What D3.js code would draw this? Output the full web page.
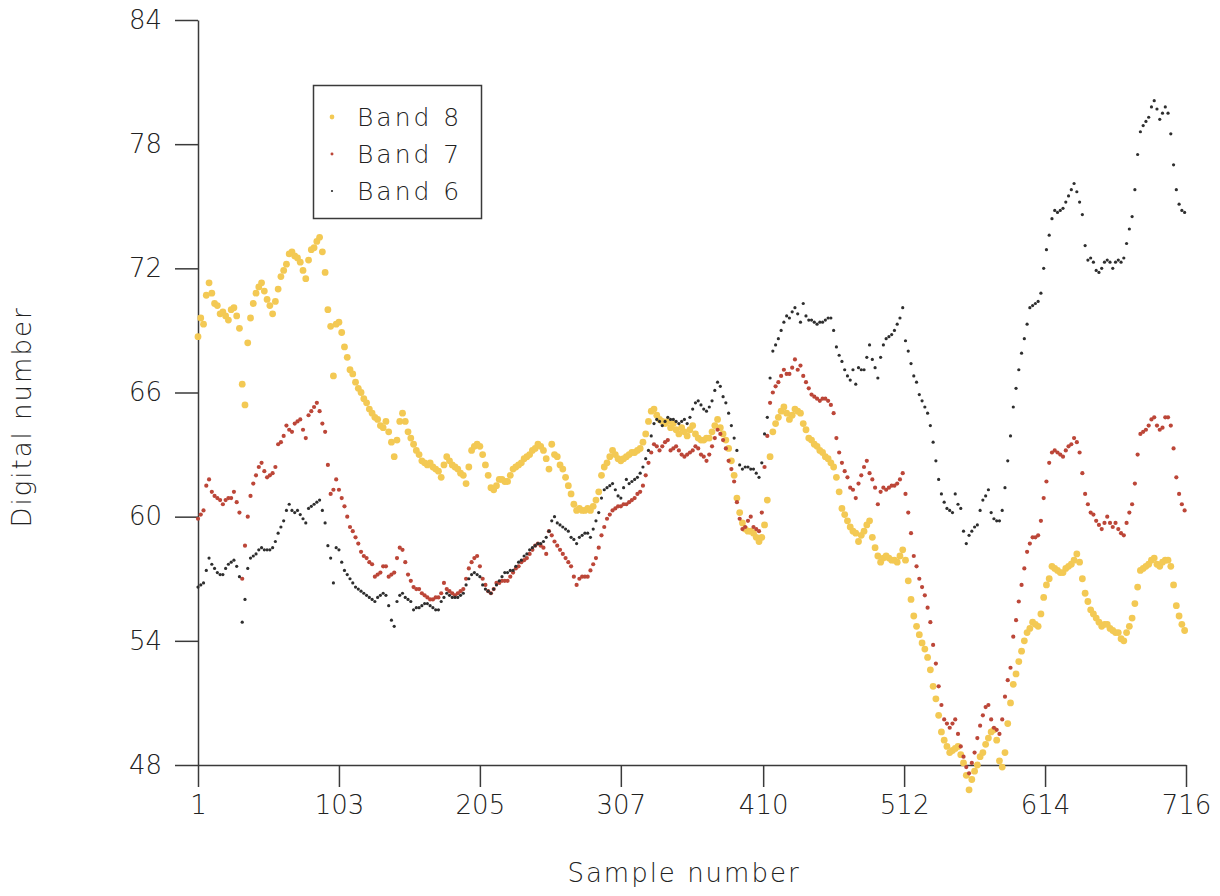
<!DOCTYPE html>
<html>
<head>
<meta charset="utf-8">
<script src="https://cdn.jsdelivr.net/npm/d3@7"></script>
<style>
  body { margin: 0; background: #fff; }
  svg text { font-family: "DejaVu Sans", sans-serif; font-weight: 200; fill: #222; }
</style>
</head>
<body>
<div id="chart"></div>
<script>
"use strict";

// sample numbers (every second sample of 1..716)
var samples = d3.range(1, 716, 2);

var xTicks = [1, 103, 205, 307, 410, 512, 614, 716];
var yTicks = [48, 54, 60, 66, 72, 78, 84];

var seriesNames = ["Band 8", "Band 7", "Band 6"];

var band8 = [
  68.7, 69.6, 69.3, 70.7, 71.3, 70.8, 70.3, 70.2, 69.8, 69.9,
  69.7, 69.5, 70.0, 70.1, 69.7, 69.1, 66.4, 65.4, 68.4, 69.6,
  70.3, 70.8, 71.1, 71.3, 70.9, 70.5, 70.2, 69.8, 70.4, 71.0,
  71.6, 71.9, 72.2, 72.7, 72.8, 72.6, 72.5, 72.3, 71.9, 71.5,
  72.4, 72.9, 73.0, 73.3, 73.5, 72.8, 71.8, 70.0, 69.2, 66.8,
  69.3, 69.4, 68.9, 68.2, 67.7, 67.1, 66.9, 66.5, 66.2, 66.0,
  65.7, 65.5, 65.2, 65.0, 64.8, 64.7, 64.4, 64.3, 64.6, 64.1,
  63.6, 62.9, 63.7, 64.6, 65.0, 64.6, 64.1, 63.8, 63.5, 63.2,
  63.0, 62.7, 62.6, 62.5, 62.6, 62.4, 62.3, 62.2, 61.9, 62.5,
  62.9, 62.7, 62.5, 62.4, 62.3, 62.1, 62.0, 61.6, 62.4, 63.2,
  63.4, 63.5, 63.4, 63.0, 62.5, 62.0, 61.4, 61.3, 61.5, 61.8,
  61.8, 61.7, 61.7, 62.0, 62.3, 62.4, 62.5, 62.6, 62.8, 62.9,
  63.0, 63.2, 63.3, 63.5, 63.4, 63.2, 62.8, 62.3, 63.5, 63.0,
  62.9, 62.5, 62.3, 61.9, 61.5, 61.1, 60.6, 60.3, 60.4, 60.3,
  60.3, 60.4, 60.3, 60.5, 60.8, 61.2, 62.0, 62.4, 62.6, 62.9,
  63.2, 63.0, 62.8, 62.7, 62.8, 62.9, 63.0, 63.1, 63.1, 63.2,
  63.3, 63.6, 64.0, 64.6, 65.1, 65.2, 64.9, 64.7, 64.6, 64.5,
  64.6, 64.3, 64.5, 64.2, 64.0, 64.3, 64.1, 63.9, 64.2, 64.4,
  64.0, 63.8, 63.7, 63.7, 63.8, 63.8, 64.1, 64.4, 64.7, 64.3,
  64.0, 63.7, 63.3, 62.7, 62.0, 60.9, 60.2, 59.7, 59.4, 59.3,
  59.3, 59.2, 59.0, 58.8, 59.0, 59.6, 60.8, 62.9, 64.1, 64.5,
  64.8, 65.1, 65.3, 65.0, 64.7, 64.9, 65.2, 65.1, 65.0, 64.5,
  64.2, 63.8, 63.7, 63.5, 63.4, 63.2, 63.1, 62.9, 62.8, 62.6,
  62.4, 61.9, 61.2, 60.4, 60.1, 59.8, 59.5, 59.3, 59.2, 58.8,
  59.1, 59.3, 59.6, 59.8, 59.0, 58.5, 58.1, 57.8, 58.0, 58.1,
  58.0, 57.9, 57.9, 57.8, 58.1, 58.4, 57.9, 56.9, 56.0, 55.2,
  54.7, 54.3, 53.9, 53.6, 53.2, 52.6, 51.8, 51.2, 50.4, 49.6,
  49.2, 48.9, 48.6, 48.7, 48.8, 48.9, 48.5, 48.1, 47.5, 46.8,
  47.3, 47.7, 48.0, 48.4, 48.6, 49.0, 49.3, 49.6, 49.7, 49.2,
  48.2, 47.9, 48.6, 50.0, 51.0, 51.9, 52.4, 53.0, 53.5, 54.0,
  54.4, 54.6, 54.9, 54.8, 54.7, 55.3, 56.1, 56.7, 57.0, 57.6,
  57.5, 57.4, 57.3, 57.3, 57.5, 57.6, 57.7, 57.9, 58.2, 57.8,
  57.0, 56.3, 55.9, 55.5, 55.3, 55.1, 54.9, 54.7, 54.8, 54.8,
  54.6, 54.5, 54.4, 54.4, 54.1, 54.0, 54.4, 54.7, 55.1, 55.8,
  56.6, 57.4, 57.5, 57.6, 57.7, 57.9, 58.0, 57.7, 57.6, 57.8,
  57.9, 57.9, 57.6, 56.7, 55.7, 55.2, 54.8, 54.5
];

var band7 = [
  59.9, 60.1, 60.3, 61.5, 61.8, 61.2, 61.0, 60.9, 60.8, 60.6,
  60.8, 60.9, 60.9, 61.2, 60.7, 60.2, 57.0, 58.6, 60.0, 61.0,
  61.6, 62.0, 62.4, 62.6, 62.2, 61.9, 62.0, 62.1, 62.4, 63.5,
  63.6, 63.9, 64.4, 64.2, 64.1, 64.5, 64.6, 64.7, 64.2, 63.8,
  64.9, 65.1, 65.3, 65.5, 65.1, 64.5, 64.1, 62.5, 61.1, 61.3,
  61.8, 61.3, 60.9, 60.5, 60.0, 59.5, 59.3, 59.0, 58.7, 58.3,
  58.1, 58.0, 57.8, 57.7, 57.1, 57.2, 57.3, 57.6, 57.6, 57.1,
  57.2, 57.3, 58.0, 58.5, 58.4, 57.8, 57.2, 56.9, 56.6, 56.5,
  56.5, 56.3, 56.2, 56.1, 56.0, 56.0, 56.1, 56.1, 56.3, 56.8,
  56.5, 56.4, 56.3, 56.2, 56.3, 56.4, 56.5, 57.0, 57.5, 57.8,
  58.0, 58.1, 57.6, 57.0, 56.7, 56.4, 56.3, 56.5, 56.8, 56.8,
  56.9, 56.9, 56.9, 57.1, 57.3, 57.5, 57.6, 57.8, 57.9, 58.0,
  58.2, 58.4, 58.6, 58.7, 58.6, 58.5, 58.2, 59.3, 59.1, 58.8,
  58.6, 58.4, 58.2, 58.0, 57.8, 57.6, 57.1, 56.7, 57.0, 57.1,
  57.1, 57.1, 57.4, 57.7, 58.0, 58.5, 59.1, 59.5, 59.9, 60.1,
  60.3, 60.4, 60.5, 60.5, 60.6, 60.6, 60.7, 60.8, 60.9, 61.1,
  61.2, 61.5, 62.0, 62.6, 63.1, 63.5, 63.4, 63.2, 63.4, 63.6,
  63.7, 63.2, 63.3, 63.4, 63.2, 63.0, 62.9, 63.0, 63.1, 63.2,
  63.4, 63.3, 63.0, 62.9, 62.7, 63.0, 63.4, 63.8, 64.2, 64.0,
  63.7, 63.3, 62.7, 62.3, 61.7, 60.7, 59.9, 59.4, 59.5, 59.8,
  60.0, 59.5, 59.4, 59.3, 60.2, 62.4, 63.9, 65.5, 66.0, 66.3,
  66.5, 66.8, 67.1, 66.9, 66.9, 67.2, 67.6, 67.1, 67.3, 66.8,
  66.5, 66.2, 65.9, 65.8, 65.7, 65.6, 65.7, 65.7, 65.6, 65.4,
  65.0, 63.8, 63.1, 62.6, 62.2, 61.9, 61.4, 61.3, 60.9, 61.6,
  62.0, 62.4, 62.7, 62.1, 61.8, 61.4, 60.6, 61.2, 61.4, 61.3,
  61.4, 61.5, 61.5, 61.6, 61.8, 62.1, 61.1, 60.2, 59.2, 58.1,
  57.6, 57.0, 56.6, 56.2, 55.6, 54.9, 53.8, 52.9, 51.8, 50.9,
  50.2, 50.0, 49.8, 50.0, 50.2, 49.5, 48.9, 48.4, 47.9, 47.6,
  48.1, 48.6, 49.3, 49.9, 50.4, 50.8, 50.9, 50.2, 49.8, 49.7,
  49.5, 50.2, 51.3, 52.1, 52.7, 54.2, 55.0, 55.9, 56.7, 57.5,
  58.3, 58.7, 59.0, 59.0, 59.1, 59.8, 60.9, 61.7, 62.6, 63.1,
  63.2, 63.1, 63.0, 62.9, 63.2, 63.4, 63.5, 63.8, 63.6, 63.1,
  62.1, 61.1, 60.6, 60.2, 60.1, 59.8, 59.6, 59.4, 59.7, 60.0,
  59.7, 59.5, 59.7, 59.4, 59.2, 59.1, 59.7, 60.2, 60.6, 61.6,
  63.0, 64.0, 64.1, 64.2, 64.4, 64.7, 64.8, 64.4, 64.2, 64.3,
  64.8, 64.8, 64.4, 63.3, 61.9, 61.1, 60.6, 60.3
];

var band6 = [
  56.6, 56.7, 56.8, 57.4, 58.0, 57.7, 57.5, 57.3, 57.2, 57.2,
  57.5, 57.7, 57.8, 57.9, 57.6, 57.1, 54.9, 56.0, 57.5, 58.0,
  58.1, 58.2, 58.4, 58.5, 58.4, 58.4, 58.4, 58.5, 58.8, 59.2,
  59.5, 59.8, 60.3, 60.6, 60.3, 60.2, 60.3, 60.1, 59.9, 59.7,
  60.4, 60.5, 60.6, 60.7, 60.8, 60.3, 59.7, 58.6, 58.0, 56.8,
  58.5, 58.4, 57.8, 57.4, 57.2, 57.0, 56.8, 56.6, 56.5, 56.4,
  56.3, 56.2, 56.1, 56.0, 55.9, 56.1, 56.2, 56.3, 56.2, 55.7,
  55.0, 54.7, 55.9, 56.2, 56.3, 56.1, 56.0, 55.9, 55.5, 55.6,
  55.6, 55.7, 55.8, 55.8, 55.7, 55.6, 55.5, 55.5, 55.9, 56.1,
  56.3, 56.2, 56.1, 56.1, 56.1, 56.2, 56.3, 56.7, 57.0, 57.2,
  57.3, 57.2, 57.1, 56.7, 56.5, 56.4, 56.3, 56.5, 56.7, 56.9,
  57.1, 57.3, 57.3, 57.4, 57.4, 57.6, 57.8, 57.9, 58.1, 58.2,
  58.4, 58.5, 58.6, 58.7, 58.7, 58.8, 59.0, 59.3, 59.8, 60.0,
  59.7, 59.6, 59.5, 59.4, 59.3, 59.0, 58.9, 58.7, 59.0, 59.1,
  59.2, 59.2, 59.0, 59.4, 59.8, 60.2, 60.9, 61.3, 61.4, 61.5,
  61.6, 61.3, 61.0, 60.9, 61.4, 61.8, 61.6, 61.7, 61.8, 61.9,
  62.1, 62.4, 62.8, 63.2, 63.9, 64.5, 64.7, 64.6, 64.4, 64.6,
  64.8, 64.7, 64.7, 64.6, 64.5, 64.6, 64.7, 64.5, 64.8, 65.2,
  65.5, 65.6, 65.4, 65.2, 65.1, 65.3, 65.6, 66.1, 66.5, 66.3,
  65.8, 65.5, 65.0, 64.4, 63.8, 63.2, 62.5, 62.3, 62.4, 62.4,
  62.3, 62.3, 62.1, 61.9, 62.6, 64.0, 64.8, 66.7, 68.0, 68.3,
  68.6, 69.0, 69.4, 69.7, 69.6, 69.9, 70.1, 69.8, 69.4, 70.3,
  69.7, 69.5, 69.5, 69.4, 69.3, 69.4, 69.4, 69.5, 69.6, 69.6,
  69.0, 68.2, 67.8, 67.5, 67.1, 66.8, 66.6, 67.1, 66.4, 67.2,
  67.1, 67.1, 67.7, 68.3, 67.6, 67.2, 66.7, 67.7, 68.3, 68.6,
  68.7, 68.8, 69.0, 69.3, 69.6, 70.1, 68.5, 68.0, 67.4, 66.8,
  66.5, 65.9, 65.6, 65.3, 65.0, 64.4, 63.6, 62.7, 61.8, 61.1,
  60.7, 60.4, 60.3, 60.2, 61.1, 60.6, 60.4, 59.3, 58.7, 59.1,
  59.3, 59.5, 59.6, 60.3, 60.8, 61.0, 61.3, 60.2, 59.9, 59.8,
  59.8, 60.3, 61.4, 62.7, 63.9, 65.3, 66.2, 67.1, 67.9, 68.6,
  69.3, 70.1, 70.2, 70.3, 70.4, 70.8, 72.0, 72.9, 73.6, 74.4,
  74.8, 74.7, 74.8, 74.9, 75.2, 75.5, 75.8, 76.1, 75.7, 75.2,
  74.6, 73.1, 72.4, 72.5, 72.3, 71.9, 71.8, 72.0, 72.3, 72.4,
  72.3, 72.0, 72.3, 72.4, 72.3, 72.5, 73.2, 73.9, 74.5, 75.8,
  77.5, 78.6, 78.9, 79.1, 79.3, 79.8, 80.1, 79.7, 79.2, 79.5,
  79.8, 79.5, 78.5, 77.0, 75.8, 75.1, 74.8, 74.7
];

var seriesValues = [band8, band7, band6];
var seriesColors = ["#f3c954", "#bc4638", "#2e2e2e"];
var seriesRadius = [3.4, 2.1, 1.6];

var width = 1220;
var height = 896;

var svg = d3.select("#chart").append("svg")
  .attr("width", width)
  .attr("height", height);

var x = d3.scaleLinear().domain([1, 716]).range([198, 1186]);
var y = d3.scaleLinear().domain([48, 84]).range([765, 20]);

// axes
var yAxis = svg.append("g")
  .attr("transform", "translate(198,0)")
  .call(d3.axisLeft(y).tickValues(yTicks).tickSize(23).tickSizeOuter(0).tickPadding(13));

var xAxis = svg.append("g")
  .attr("transform", "translate(0,765)")
  .call(d3.axisBottom(x).tickValues(xTicks).tickSize(22).tickSizeOuter(0).tickPadding(9));

[xAxis, yAxis].forEach(function(g) {
  g.select(".domain").attr("stroke", "#3a3a3a").attr("stroke-width", 1.5);
  g.selectAll(".tick line").attr("stroke", "#3a3a3a").attr("stroke-width", 1.5);
  g.selectAll(".tick text")
    .attr("fill", "#222")
    .style("font-size", "26px")
    .style("font-family", "\"DejaVu Sans\", sans-serif")
    .style("font-weight", 200);
});

// axis titles
svg.append("text")
  .attr("x", 684)
  .attr("y", 882)
  .attr("text-anchor", "middle")
  .style("font-size", "26px")
  .style("letter-spacing", "2px")
  .text("Sample number");

svg.append("text")
  .attr("transform", "translate(31,417) rotate(-90)")
  .attr("text-anchor", "middle")
  .style("font-size", "26px")
  .style("letter-spacing", "2px")
  .text("Digital number");

// dots
seriesValues.forEach(function(values, i) {
  svg.append("g")
    .selectAll("circle")
    .data(values)
    .enter().append("circle")
    .attr("cx", function(d, j) { return x(samples[j]); })
    .attr("cy", function(d) { return y(d); })
    .attr("r", seriesRadius[i])
    .attr("fill", seriesColors[i]);
});

// legend
var legend = svg.append("g");

legend.append("rect")
  .attr("x", 313.5)
  .attr("y", 85.5)
  .attr("width", 168)
  .attr("height", 133)
  .attr("fill", "#fff")
  .attr("stroke", "#3a3a3a")
  .attr("stroke-width", 1.5);

var items = legend.selectAll(".item")
  .data(seriesNames)
  .enter().append("g")
  .attr("class", "item")
  .attr("transform", function(d, i) { return "translate(0," + (117 + i * 37) + ")"; });

items.append("circle")
  .attr("cx", 332)
  .attr("cy", 0)
  .attr("r", function(d, i) { return seriesRadius[i] * 0.7; })
  .attr("fill", function(d, i) { return seriesColors[i]; });

items.append("text")
  .attr("x", 357)
  .attr("dy", "0.36em")
  .style("font-size", "25px")
  .style("letter-spacing", "3px")
  .text(function(d) { return d; });
</script>
</body>
</html>
